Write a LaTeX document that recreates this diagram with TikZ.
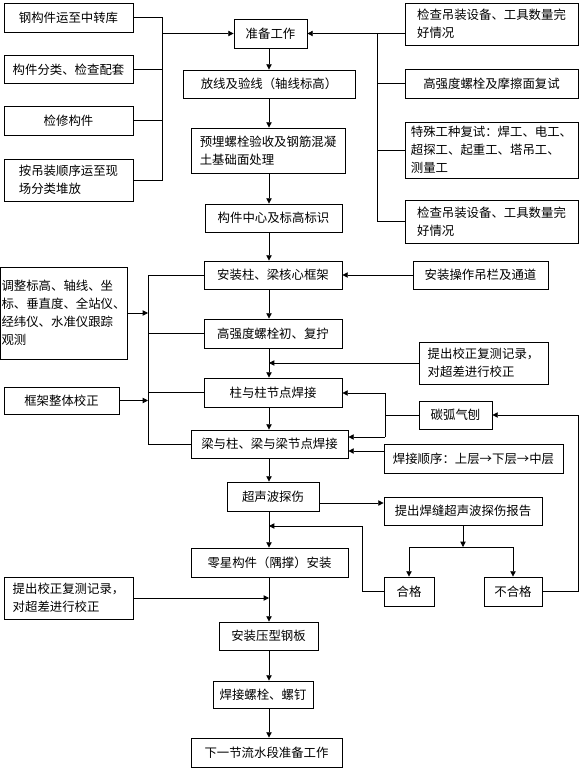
\documentclass[tikz,border=0pt]{standalone}
\usepackage{fontspec}
\setmainfont{Noto Sans CJK SC}
\usetikzlibrary{arrows.meta}

\begin{document}
\begin{tikzpicture}[x=0.75pt,y=-0.75pt,line width=0.6pt,
  font=\fontsize{9.3pt}{13.5pt}\selectfont,
  box/.style={draw,inner sep=0pt,align=left},
  sz/.style 2 args={minimum width=#1*0.75pt,minimum height=#2*0.75pt},
  arr/.style={-{Triangle[length=4pt,width=4pt]}}]
  \useasboundingbox (0,0) rectangle (585,773);
  \node (l1) at (68.5,17.5) [box,sz={129}{29}] {钢构件运至中转库};
  \node (l2) at (68.5,69.5) [box,sz={129}{28}] {构件分类、检查配套};
  \node (l3) at (68.5,120.5) [box,sz={129}{29}] {检修构件};
  \node (l4) at (68.5,180) [box,sz={129}{42}] {按吊装顺序运至现\\场分类堆放};
  \node (c1) at (270.5,33.5) [box,sz={73}{29}] {准备工作};
  \node (c2) at (269,84) [box,sz={172}{28}] {放线及验线（轴线标高）};
  \node (c3) at (268,150.5) [box,sz={154}{45}] {预埋螺栓验收及钢筋混凝\\土基础面处理};
  \node (c4) at (273.5,218) [box,sz={137}{28}] {构件中心及标高标识};
  \node (c5) at (273,275) [box,sz={138}{28}] {安装柱、梁核心框架};
  \node (c6) at (273,333.5) [box,sz={138}{29}] {高强度螺栓初、复拧};
  \node (c7) at (273,392.5) [box,sz={138}{29}] {柱与柱节点焊接};
  \node (c8) at (269.5,444) [box,sz={157}{28}] {梁与柱、梁与梁节点焊接};
  \node (c9) at (273,496.5) [box,sz={92}{29}] {超声波探伤};
  \node (c10) at (269.5,562.5) [box,sz={157}{29}] {零星构件（隅撑）安装};
  \node (c11) at (268.5,636) [box,sz={99}{28}] {安装压型钢板};
  \node (c12) at (263,694.5) [box,sz={100}{27}] {焊接螺栓、螺钉};
  \node (c13) at (266.5,752.5) [box,sz={151}{29}] {下一节流水段准备工作};
  \node (r1) at (491.5,24) [box,sz={173}{42}] {检查吊装设备、工具数量完\\好情况};
  \node (r2) at (491.5,83.5) [box,sz={173}{29}] {高强度螺栓及摩擦面复试};
  \node (r3) at (491.5,150) [box,sz={173}{56}] {特殊工种复试：焊工、电工、\\超探工、起重工、塔吊工、\\测量工};
  \node (r4) at (491.5,221.5) [box,sz={173}{43}] {检查吊装设备、工具数量完\\好情况};
  \node (m1) at (63.5,313) [box,sz={127}{92}] {调整标高、轴线、坐\\标、垂直度、全站仪、\\经纬仪、水准仪跟踪\\观测};
  \node (m2) at (61.5,400.5) [box,sz={115}{27}] {框架整体校正};
  \node (n1) at (480.5,275) [box,sz={135}{28}] {安装操作吊栏及通道};
  \node (n2) at (483.5,363) [box,sz={129}{42}] {提出校正复测记录，\\对超差进行校正};
  \node (n3) at (455.5,415) [box,sz={73}{28}] {碳弧气刨};
  \node (n4) at (473.5,458.5) [box,sz={179}{29}] {焊接顺序：上层→下层→中层};
  \node (n5) at (463,511) [box,sz={158}{28}] {提出焊缝超声波探伤报告};
  \node (p1) at (409,591.5) [box,sz={50}{29}] {合格};
  \node (p2) at (513,591.5) [box,sz={58}{29}] {不合格};
  \node (q1) at (68.5,598) [box,sz={129}{42}] {提出校正复测记录，\\对超差进行校正};
  \coordinate (lb) at (162,17.5);
  \coordinate (rb) at (377,33.5);
  \coordinate (sp) at (269,0);
  \coordinate (mb) at (148,275);
  \coordinate (nb1) at (385,393);
  \coordinate (nb2) at (385,437);
  \coordinate (n4a) at (384,451);
  \coordinate (c9a) at (319,503);
  \coordinate (pj) at (459,547);
  \coordinate (pl) at (362,526);
  \coordinate (pr) at (578,415);
  \draw (l1.east) -- (lb) -- (lb |- l4.east) -- (l4.east);
  \draw (l2.east) -- (l2.east -| lb);
  \draw (l3.east) -- (l3.east -| lb);
  \draw [arr] (lb |- c1) -- (c1.west);
  \draw [arr] (r1.west |- c1) -- (c1.east);
  \draw (rb) -- (rb |- r4.west) -- (r4.west);
  \draw (r2.west) -- (r2.west -| rb);
  \draw (r3.west) -- (r3.west -| rb);
  \draw [arr] (c1.south -| sp) -- (c2.north -| sp);
  \draw [arr] (c2.south -| sp) -- (c3.north -| sp);
  \draw [arr] (c3.south -| sp) -- (c4.north -| sp);
  \draw [arr] (c4.south -| sp) -- (c5.north -| sp);
  \draw [arr] (c5.south -| sp) -- (c6.north -| sp);
  \draw [arr] (c6.south -| sp) -- (c7.north -| sp);
  \draw [arr] (c7.south -| sp) -- (c8.north -| sp);
  \draw [arr] (c8.south -| sp) -- (c9.north -| sp);
  \draw [arr] (c9.south -| sp) -- (c10.north -| sp);
  \draw [arr] (c10.south -| sp) -- (c11.north -| sp);
  \draw [arr] (c11.south -| sp) -- (c12.north -| sp);
  \draw [arr] (c12.south -| sp) -- (c13.north -| sp);
  \draw (c5.west) -- (mb) -- (mb |- c8.west) -- (c8.west);
  \draw (c6.west) -- (c6.west -| mb);
  \draw (c7.west) -- (c7.west -| mb);
  \draw [arr] (m1.east) -- (m1.east -| mb);
  \draw [arr] (m2.east) -- (m2.east -| mb);
  \draw [arr] (n1.west) -- (c5.east);
  \draw [arr] (n2.west) -- (n2.west -| sp);
  \draw (n3.west) -- (n3.west -| nb1);
  \draw (nb1) -- (nb2);
  \draw [arr] (nb1) -- (nb1 -| c7.east);
  \draw [arr] (nb2) -- (nb2 -| c8.east);
  \draw [arr] (n4a) -- (n4a -| c8.east);
  \draw [arr] (c9a) -- (c9a -| n5.west);
  \draw [arr] (n5.south) -- (n5.south |- pj);
  \draw (pj -| p1.north) -- (pj -| p2.north);
  \draw [arr] (pj -| p1.north) -- (p1.north);
  \draw [arr] (pj -| p2.north) -- (p2.north);
  \draw [arr] (p1.west) -- (p1.west -| pl) -- (pl) -- (pl -| sp);
  \draw [arr] (p2.east) -- (p2.east -| pr) -- (pr) -- (n3.east);
  \draw [arr] (q1.east) -- (q1.east -| sp);
\end{tikzpicture}
\end{document}
